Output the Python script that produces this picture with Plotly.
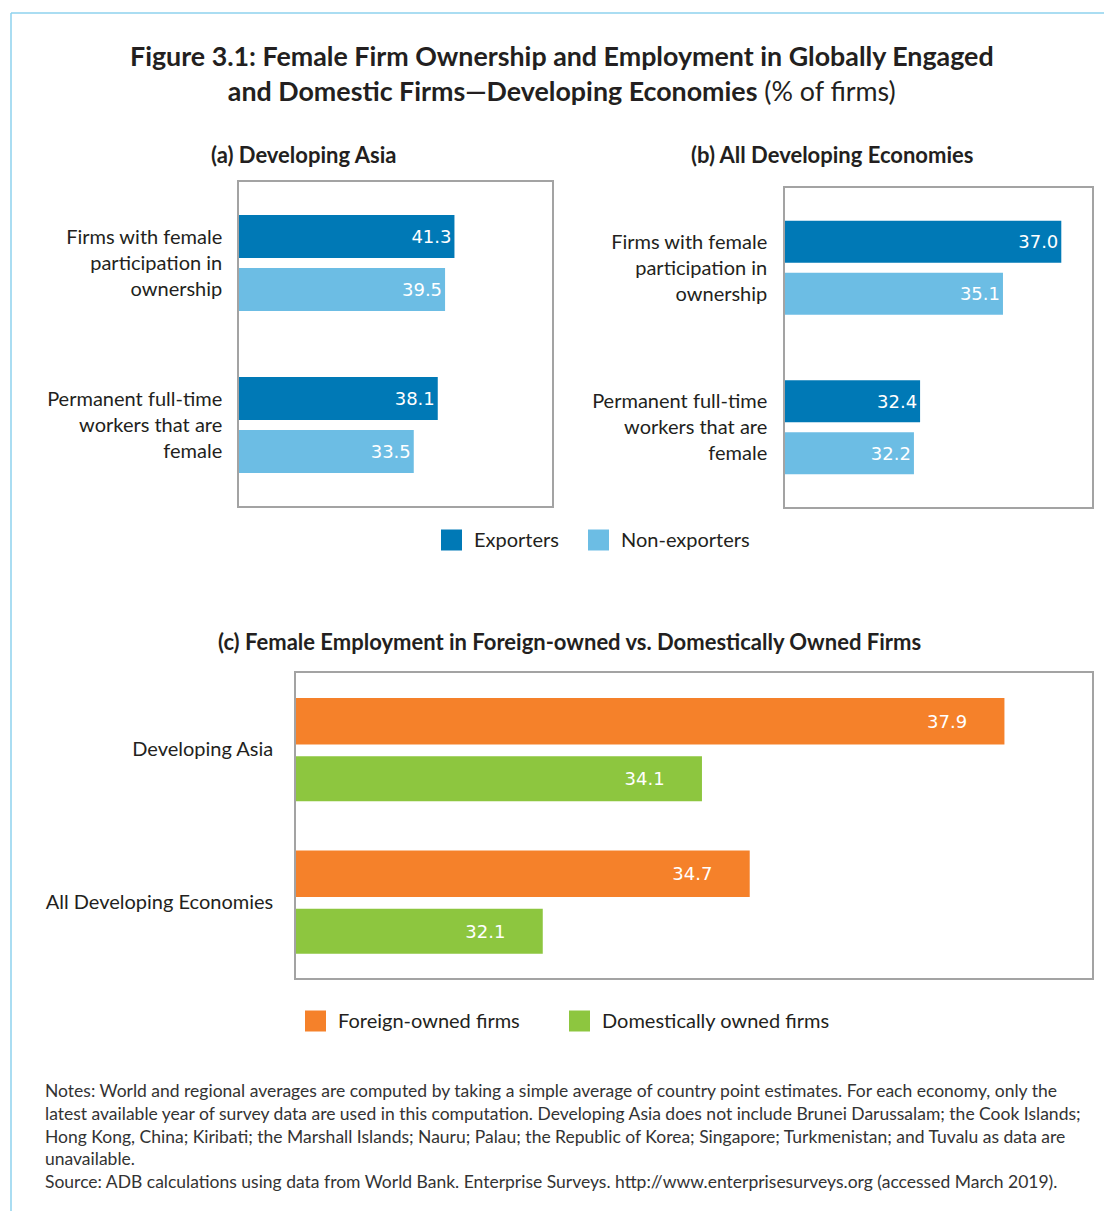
import plotly.graph_objects as go

W, H = 1104, 1211

# ---------------- data ----------------
cats_ab = ["Firms with female<br>participation in<br>ownership",
           "Permanent full-time<br>workers that are<br>female"]
asia_exporters = [41.3, 38.1]
asia_nonexporters = [39.5, 33.5]
all_exporters = [37.0, 32.4]
all_nonexporters = [35.1, 32.2]

cats_c = ["Developing Asia", "All Developing Economies"]
foreign_owned = [37.9, 34.7]
domestic_owned = [34.1, 32.1]

C_EXP = "#0079B6"
C_NON = "#6CBDE4"
C_FOR = "#F5812A"
C_DOM = "#8DC63F"
TXT = "#231F20"
FONT = "Lato"
NUMFONT = "DejaVu Sans"

def px_x(p):
    return p / W

def px_y(p):
    return 1 - p / H

fig = go.Figure()

def add_bar(x, y, color, xa, ya, name, offset, width, pad=""):
    fig.add_trace(go.Bar(
        x=x, y=y, orientation="h", name=name, marker=dict(color=color, line=dict(width=0)),
        offset=offset, width=width,
        texttemplate="%{x:.1f}" + pad, textposition="inside", insidetextanchor="end",
        textfont=dict(color="white", size=18, family=NUMFONT),
        xaxis=xa, yaxis=ya, showlegend=False, hoverinfo="x+y"))

add_bar(asia_exporters, cats_ab, C_EXP, "x", "y", "Exporters", -0.296, 0.265)
add_bar(asia_nonexporters, cats_ab, C_NON, "x", "y", "Non-exporters", 0.031, 0.265)
add_bar(all_exporters, cats_ab, C_EXP, "x2", "y2", "Exporters", -0.295, 0.263)
add_bar(all_nonexporters, cats_ab, C_NON, "x2", "y2", "Non-exporters", 0.031, 0.263)
PAD = "\u00a0" * 6
add_bar(foreign_owned, cats_c, C_FOR, "x3", "y3", "Foreign-owned firms", -0.336, 0.305, PAD)
add_bar(domestic_owned, cats_c, C_DOM, "x3", "y3", "Domestically owned firms", 0.046, 0.295, PAD)

axis_common = dict(showgrid=False, zeroline=False, showline=True, mirror=True,
                   linecolor="#A3A3A3", linewidth=1.5)

fig.update_layout(
    width=W, height=H, margin=dict(l=0, r=0, t=0, b=0),
    paper_bgcolor="white", plot_bgcolor="white",
    barmode="overlay",
    font=dict(family=FONT, color=TXT),
    xaxis=dict(domain=[px_x(239), px_x(552)], range=[0, 60], showticklabels=False,
               ticks="", anchor="y", **axis_common),
    yaxis=dict(domain=[px_y(506), px_y(182)], autorange="reversed", anchor="x",
               tickfont=dict(size=20, family=FONT, color=TXT), ticks="",
               ticklabelstandoff=11, **axis_common),
    xaxis2=dict(domain=[px_x(785), px_x(1092)], range=[28, 38], showticklabels=False,
                ticks="", anchor="y2", **axis_common),
    yaxis2=dict(domain=[px_y(507), px_y(188)], autorange="reversed", anchor="x2",
                tickfont=dict(size=20, family=FONT, color=TXT), ticks="",
                ticklabelstandoff=12, **axis_common),
    xaxis3=dict(domain=[px_x(296), px_x(1092)], range=[29, 39], showticklabels=False,
                ticks="", anchor="y3", **axis_common),
    yaxis3=dict(domain=[px_y(978), px_y(673)], autorange="reversed", anchor="x3",
                tickfont=dict(size=20, family=FONT, color=TXT), ticks="",
                ticklabelstandoff=17, **axis_common),
)

annotations = []
def ann(text, x, y, size, bold=False, xanchor="center", align="center", color=TXT):
    if bold:
        text = "<b>" + text + "</b>"
    annotations.append(dict(text=text, x=px_x(x), y=px_y(y), xref="paper", yref="paper",
                            xanchor=xanchor, yanchor="middle", align=align, showarrow=False,
                            font=dict(size=size, family=FONT, color=color)))

ann("<b>Figure 3.1: Female Firm Ownership and Employment in Globally Engaged</b><br>"
    "<b>and Domestic Firms\u2014Developing Economies</b> (% of firms)", 562, 74, 26.8)
ann("(a) Developing Asia", 303, 155, 22, bold=True)
ann("(b) All Developing Economies", 832, 155, 22, bold=True)
ann("(c) Female Employment in Foreign-owned vs. Domestically Owned Firms", 569, 641, 22, bold=True)

# legends
shapes = []
def legend_item(x, y, color, label):
    shapes.append(dict(type="rect", xref="paper", yref="paper",
                       x0=px_x(x), x1=px_x(x + 21), y0=px_y(y + 10.5), y1=px_y(y - 10.5),
                       fillcolor=color, line=dict(width=0)))
    ann(label, x + 31, y - 1, 20, xanchor="left", align="left")

legend_item(441, 540, C_EXP, "Exporters")
legend_item(588, 540, C_NON, "Non-exporters")
legend_item(305, 1021, C_FOR, "Foreign-owned firms")
legend_item(569, 1021, C_DOM, "Domestically owned firms")

notes = ("Notes: World and regional averages are computed by taking a simple average of country point estimates. For each economy, only the<br>"
         "latest available year of survey data are used in this computation. Developing Asia does not include Brunei Darussalam; the Cook Islands;<br>"
         "Hong Kong, China; Kiribati; the Marshall Islands; Nauru; Palau; the Republic of Korea; Singapore; Turkmenistan; and Tuvalu as data are<br>"
         "unavailable.<br>"
         "Source: ADB calculations using data from World Bank. Enterprise Surveys. http://www.enterprisesurveys.org (accessed March 2019).")
annotations.append(dict(text=notes, x=px_x(43), y=px_y(1136), xref="paper", yref="paper",
                        xanchor="left", yanchor="middle", align="left", showarrow=False,
                        font=dict(size=17.5, family=FONT, color="#333333")))

# outer frame (light blue, left and top)
shapes.append(dict(type="line", xref="paper", yref="paper", x0=px_x(11), x1=px_x(11),
                   y0=0, y1=px_y(13), line=dict(color="#8ED2EE", width=1.5)))
shapes.append(dict(type="line", xref="paper", yref="paper", x0=px_x(11), x1=1,
                   y0=px_y(13), y1=px_y(13), line=dict(color="#8ED2EE", width=1.5)))

fig.update_layout(annotations=annotations, shapes=shapes)

fig.write_html("out.html")
